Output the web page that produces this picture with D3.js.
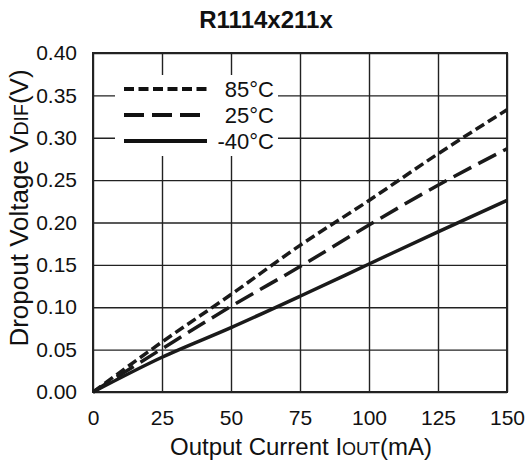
<!DOCTYPE html>
<html>
<head>
<meta charset="utf-8">
<script src="https://cdn.jsdelivr.net/npm/d3@7"></script>
<style>
  body { margin: 0; background: #fff; }
  svg text { font-family: "Liberation Sans", Arial, sans-serif; fill: #111; }
</style>
</head>
<body>
<svg id="chart"></svg>
<script>
// data
const currents = [0, 25, 50, 75, 100, 125, 150];
const temp85 = [0, 0.059, 0.115, 0.173, 0.226, 0.281, 0.333];
const temp25 = [0, 0.051, 0.101, 0.148, 0.197, 0.244, 0.287];
const tempM40 = [0, 0.041, 0.076, 0.113, 0.151, 0.189, 0.226];
const xTicks = [0, 25, 50, 75, 100, 125, 150];
const yTicks = [0, 0.05, 0.1, 0.15, 0.2, 0.25, 0.3, 0.35, 0.4];
const seriesNames = ['85°C', '25°C', '-40°C'];

const drawGraph = () => {
  // dimensions
  const width = 529;
  const height = 470;
  const left = 93, top = 53, plotW = 414, plotH = 339;

  const svg = d3.select('#chart')
    .attr('width', width)
    .attr('height', height);

  const xScale = d3.scaleLinear().domain([0, 150]).range([left, left + plotW]);
  const yScale = d3.scaleLinear().domain([0, 0.4]).range([top + plotH, top]);

  // grid
  svg.append('g')
    .attr('transform', `translate(0, ${top + plotH})`)
    .call(d3.axisBottom(xScale).tickValues(xTicks).tickSize(-plotH).tickFormat(''))
    .call(g => g.select('.domain').remove())
    .selectAll('line').attr('stroke', '#222').attr('stroke-width', 1.4);

  svg.append('g')
    .attr('transform', `translate(${left}, 0)`)
    .call(d3.axisLeft(yScale).tickValues(yTicks).tickSize(-plotW).tickFormat(''))
    .call(g => g.select('.domain').remove())
    .selectAll('line').attr('stroke', '#222').attr('stroke-width', 1.4);

  // tick labels
  svg.append('g')
    .attr('transform', `translate(0, ${top + plotH})`)
    .call(d3.axisBottom(xScale).tickValues(xTicks).tickSize(0).tickPadding(18))
    .call(g => g.select('.domain').remove())
    .selectAll('text').style('font-size', '21px').attr('fill', '#111');

  svg.append('g')
    .attr('transform', `translate(${left}, 0)`)
    .call(d3.axisLeft(yScale).tickValues(yTicks).tickSize(0).tickPadding(16)
      .tickFormat(d3.format('.2f')))
    .call(g => g.select('.domain').remove())
    .selectAll('text').style('font-size', '21px').attr('fill', '#111');

  // legend background
  svg.append('rect')
    .attr('x', 115).attr('y', 75).attr('width', 163).attr('height', 81)
    .attr('fill', '#fff');

  // border
  svg.append('rect')
    .attr('x', left).attr('y', top).attr('width', plotW).attr('height', plotH)
    .attr('fill', 'none').attr('stroke', '#222').attr('stroke-width', 2);

  // lines
  const series = [
    { name: seriesNames[0], values: temp85, dash: '10,4.5' },
    { name: seriesNames[1], values: temp25, dash: '20,8' },
    { name: seriesNames[2], values: tempM40, dash: null }
  ];

  const line = d3.line()
    .x((d, i) => xScale(currents[i]))
    .y(d => yScale(d))
    .curve(d3.curveMonotoneX);

  svg.selectAll('.curve')
    .data(series)
    .enter()
    .append('path')
    .attr('class', 'curve')
    .attr('d', d => line(d.values))
    .attr('fill', 'none')
    .attr('stroke', '#1a1a1a')
    .attr('stroke-width', 3.5)
    .attr('stroke-dasharray', d => d.dash);

  // legend
  const legend = svg.selectAll('.legend')
    .data(series)
    .enter()
    .append('g')
    .attr('class', 'legend')
    .attr('transform', (d, i) => `translate(0, ${89 + i * 26})`);

  legend.append('line')
    .attr('x1', 124).attr('x2', 207)
    .attr('stroke', '#111')
    .attr('stroke-width', 4)
    .attr('stroke-dasharray', d => d.dash);

  legend.append('text')
    .attr('x', 274).attr('y', 7.5)
    .attr('text-anchor', 'end')
    .style('font-size', '22px')
    .text(d => d.name);

  // title
  svg.append('text')
    .attr('x', 266).attr('y', 28)
    .attr('text-anchor', 'middle')
    .style('font-size', '24px')
    .style('font-weight', 'bold')
    .text('R1114x211x');

  // x-axis header
  const xt = svg.append('text')
    .attr('x', 301).attr('y', 455)
    .attr('text-anchor', 'middle')
    .style('font-size', '24px');
  xt.append('tspan').text('Output Current I');
  xt.append('tspan').style('font-size', '18px').text('OUT');
  xt.append('tspan').text('(mA)');

  // y-axis header
  const yt = svg.append('text')
    .attr('transform', 'translate(28, 208) rotate(-90)')
    .attr('text-anchor', 'middle')
    .style('font-size', '26px');
  yt.append('tspan').text('Dropout Voltage V');
  yt.append('tspan').style('font-size', '19.5px').text('DIF');
  yt.append('tspan').text('(V)');
};

drawGraph();
</script>
</body>
</html>
